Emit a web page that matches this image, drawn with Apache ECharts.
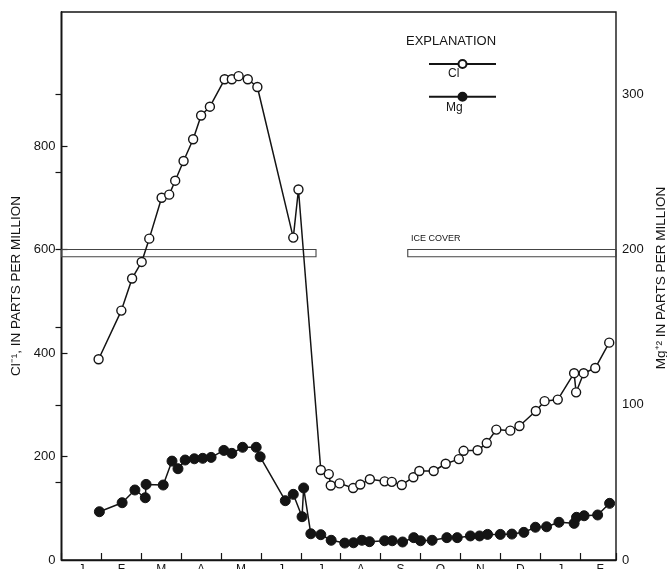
<!DOCTYPE html>
<html>
<head>
<meta charset="utf-8">
<script src="https://cdn.jsdelivr.net/npm/echarts@6/dist/echarts.min.js"></script>
<style>
  html, body { margin: 0; padding: 0; background: #fff; }
  #chart { width: 667px; height: 569px; }
</style>
</head>
<body>
<div id="chart"></div>
<script>
// ---- data (months measured from Jan 1 of first year) ----
const monthLabels = ['J','F','M','A','M','J','J','A','S','O','N','D','J','F'];
const monthLabelPos = [0.5,1.5,2.5,3.5,4.5,5.5,6.5,7.5,8.5,9.5,10.5,11.5,12.5,13.5];

const clMonth = [0.93,1.50,1.77,2.01,2.20,2.51,2.70,2.85,3.06,3.30,3.50,3.72,4.09,4.27,4.44,4.67,4.91,
  5.81,5.94,6.50,6.70,6.75,6.97,7.31,7.49,7.73,8.10,8.28,8.53,8.82,8.97,9.33,9.63,9.96,10.08,10.43,
  10.66,10.90,11.25,11.48,11.89,12.11,12.44,12.85,12.90,13.09,13.38,13.73];
const clPpm = [388,482,544,576,621,700,706,733,771,813,859,876,929,929,935,929,914,
  623,716,174,166,144,148,139,146,156,152,151,145,160,172,172,186,195,211,212,
  226,252,250,259,288,307,310,361,324,361,371,420];

const mgMonth = [0.95,1.52,1.84,2.10,2.12,2.55,2.77,2.92,3.10,3.33,3.54,3.75,4.07,4.27,4.54,4.88,4.98,
  5.61,5.81,6.03,6.07,6.25,6.50,6.76,7.10,7.32,7.53,7.72,8.10,8.29,8.55,8.83,9.00,9.29,9.66,9.92,
  10.25,10.48,10.68,11.00,11.29,11.59,11.88,12.16,12.47,12.85,12.91,13.10,13.44,13.74];
const mgPpm = [31.1,36.9,45.1,40.1,48.7,48.3,63.7,58.8,64.4,65.2,65.5,66.1,70.6,68.7,72.6,72.6,66.5,
  38.2,42.3,27.9,46.4,16.9,16.3,12.7,10.9,11.1,12.7,11.8,12.4,12.4,11.6,14.4,12.4,12.7,14.4,14.4,
  15.5,15.5,16.5,16.5,16.7,17.8,21.1,21.4,24.3,23.6,27.5,28.5,29.0,36.5];

const clTickValues = [0,200,400,600,800];
const mgTickLabels = [0,100,200,300];
const mgMinorTicks = [50,100,150,200,250,300];
const clMajorTicks = [200,400,600,800];
const iceCoverSpans = [[0,6.38],[8.68,13.9]];
const iceCoverBand = [586,600];

// ---- chart ----
const FONT = '"Liberation Sans", Arial, sans-serif';
const INK = '#141414';
const chart = echarts.init(document.getElementById('chart'), null, {renderer: 'canvas'});

const xCommon = {type: 'value', min: 0, max: 13.9, splitLine: {show: false}};

chart.setOption({
  animation: false,
  backgroundColor: '#fff',
  textStyle: {fontFamily: FONT, color: INK},
  grid: {left: 61.5, right: 51, top: 12, bottom: 9, show: true, borderColor: INK, borderWidth: 1.4,
    backgroundColor: 'transparent', containLabel: false, outerBoundsMode: 'none'},
  legend: {
    orient: 'vertical', left: 423, top: 54, itemWidth: 67, itemHeight: 10, itemGap: 22.7,
    data: ['Cl','Mg'], selectedMode: false, formatter: function () { return ''; },
    textStyle: {fontSize: 1}
  },
  xAxis: [
    Object.assign({}, xCommon, {
      interval: 1,
      axisLine: {show: true, lineStyle: {color: INK, width: 1.4}},
      axisTick: {show: true, inside: true, length: 7, lineStyle: {color: INK, width: 1.2}},
      axisLabel: {show: false}
    }),
    Object.assign({}, xCommon, {
      position: 'bottom',
      axisLine: {show: false},
      axisTick: {show: false},
      axisLabel: {
        show: true, margin: 4, fontSize: 12, fontFamily: FONT, color: INK,
        customValues: monthLabelPos,
        formatter: function (v) {
          const i = monthLabelPos.findIndex(p => Math.abs(p - v) < 1e-6);
          return i >= 0 ? monthLabels[i] : '';
        }
      }
    })
  ],
  yAxis: [
    {
      type: 'value', min: 0, max: 1059, position: 'left',
      splitLine: {show: false},
      axisLine: {show: true, lineStyle: {color: INK, width: 1.4}},
      axisTick: {show: true, inside: true, length: 6, customValues: clMajorTicks, lineStyle: {color: INK, width: 1.2}},
      axisLabel: {show: true, margin: 6, fontSize: 13, fontFamily: FONT, color: INK, customValues: clTickValues},
      name: 'Cl\u207B\u00B9, IN PARTS PER MILLION', nameLocation: 'middle', nameRotate: 90, nameGap: 37,
      nameTextStyle: {fontSize: 13.5, fontFamily: FONT, color: INK}
    },
    {
      type: 'value', min: 0, max: 353, position: 'right',
      splitLine: {show: false},
      axisLine: {show: true, lineStyle: {color: INK, width: 1.4}},
      axisTick: {show: true, inside: true, length: 6, customValues: mgMinorTicks, lineStyle: {color: INK, width: 1.2}},
      axisLabel: {show: true, margin: 6, fontSize: 13, fontFamily: FONT, color: INK, customValues: mgTickLabels},
      name: 'Mg\u207A\u00B2 IN PARTS PER MILLION', nameLocation: 'middle', nameRotate: 90, nameGap: 34,
      nameTextStyle: {fontSize: 13.5, fontFamily: FONT, color: INK, padding: [0, 0, 0, 16]}
    }
  ],
  graphic: [
    {type: 'text', left: 406, top: 35, style: {text: 'EXPLANATION', fontSize: 13, fontFamily: FONT, fill: INK}},
    {type: 'text', left: 448, top: 68, style: {text: 'Cl', fontSize: 12, fontFamily: FONT, fill: INK}},
    {type: 'text', left: 446, top: 102, style: {text: 'Mg', fontSize: 12, fontFamily: FONT, fill: INK}},
    {type: 'text', left: 411, top: 234, style: {text: 'ICE COVER', fontSize: 9, fontFamily: FONT, fill: INK}}
  ],
  series: [
    {
      name: 'Cl', type: 'line', xAxisIndex: 0, yAxisIndex: 0,
      data: clMonth.map((m, i) => [m, clPpm[i]]),
      symbol: 'circle', symbolSize: 9,
      lineStyle: {color: INK, width: 1.5},
      itemStyle: {color: '#fff', borderColor: INK, borderWidth: 1.4},
      z: 3,
      markArea: {
        silent: true,
        itemStyle: {color: 'rgba(255,255,255,0)', borderColor: '#444', borderWidth: 1.1},
        data: iceCoverSpans.map(s => [{coord: [s[0], iceCoverBand[1]]}, {coord: [s[1], iceCoverBand[0]]}])
      }
    },
    {
      name: 'Mg', type: 'line', xAxisIndex: 0, yAxisIndex: 1,
      data: mgMonth.map((m, i) => [m, mgPpm[i]]),
      symbol: 'circle', symbolSize: 10,
      lineStyle: {color: INK, width: 1.5},
      itemStyle: {color: INK, borderColor: INK, borderWidth: 1},
      z: 4
    }
  ]
});
</script>
</body>
</html>
